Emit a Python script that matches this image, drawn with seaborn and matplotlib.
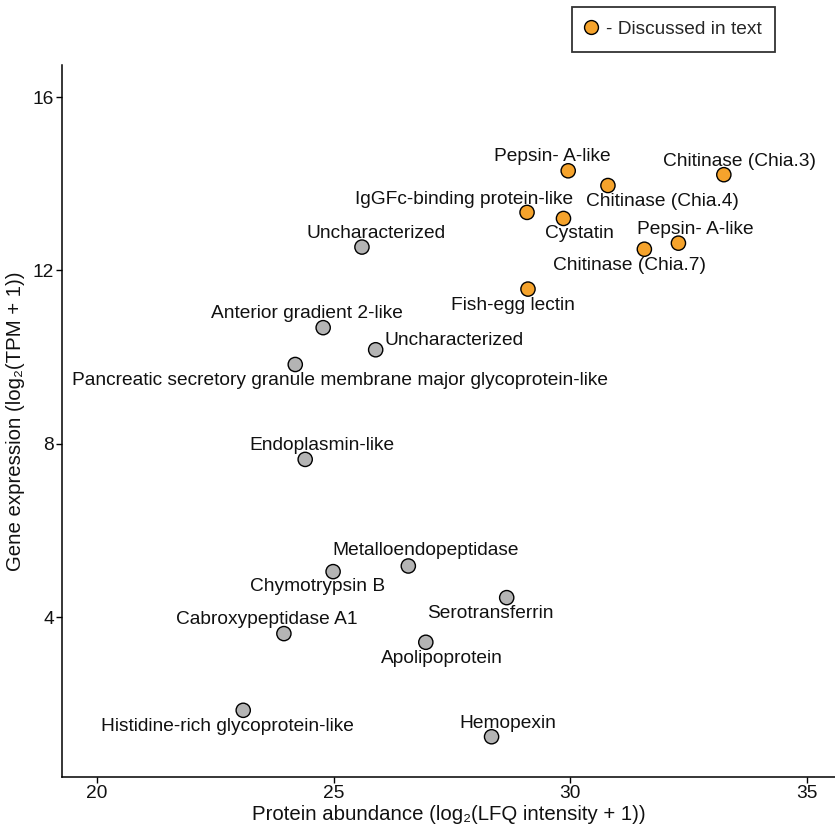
import numpy as np
import pandas as pd
import matplotlib
matplotlib.use("Agg")
import matplotlib.pyplot as plt
from matplotlib.lines import Line2D
import seaborn as sns

# protein names, abundance (x), expression (y), discussed flag
proteins = ["Pepsin- A-like", "Chitinase (Chia.3)", "Chitinase (Chia.4)",
            "IgGFc-binding protein-like", "Cystatin", "Pepsin- A-like",
            "Chitinase (Chia.7)", "Fish-egg lectin",
            "Uncharacterized", "Anterior gradient 2-like", "Uncharacterized",
            "Pancreatic secretory granule membrane major glycoprotein-like",
            "Endoplasmin-like", "Metalloendopeptidase", "Chymotrypsin B",
            "Serotransferrin", "Cabroxypeptidase A1", "Apolipoprotein",
            "Histidine-rich glycoprotein-like", "Hemopexin"]
abundance = [29.96, 33.25, 30.80, 29.09, 29.86, 32.29, 31.57, 29.11,
             25.60, 24.78, 25.89, 24.19, 24.40, 26.58, 24.99, 28.66,
             23.95, 26.95, 23.09, 28.34]
expression = [14.30, 14.21, 13.96, 13.34, 13.20, 12.63, 12.49, 11.57,
              12.54, 10.68, 10.17, 9.83, 7.64, 5.18, 5.05, 4.45,
              3.62, 3.42, 1.85, 1.24]
discussed = [True] * 8 + [False] * 12

# label offsets (pixels from point, to label centre)
label_offsets = [(-16, 14), (16, 13), (55, -16), (-63, 13), (16, -15),
                 (17, 14), (-15, -16), (-15, -16), (14, 14), (-16, 14),
                 (78, 9), (45, -16), (17, 14), (17, 15), (-16, -15),
                 (-16, -16), (-17, 14), (16, -16), (-16, -16), (16, 13)]

df = pd.DataFrame({"protein": proteins, "x": abundance, "y": expression,
                   "discussed": discussed})

sns.set_theme(style="ticks")
plt.rcParams['font.family'] = ['Liberation Sans', 'DejaVu Sans']

orange = "#F5A32C"
grey = "#B4B4B4"

fig = plt.figure(figsize=(8.35, 8.34), dpi=100)
ax = fig.add_axes([0.0743, 0.0683, 0.9257, 0.8537])
sns.scatterplot(data=df, x="x", y="y", hue="discussed",
                palette={True: orange, False: grey}, s=105,
                edgecolor="black", linewidth=1.0, legend=False, ax=ax, zorder=3)

for name, xv, yv, off in zip(proteins, abundance, expression, label_offsets):
    ax.annotate(name, (xv, yv), xytext=off, textcoords="offset pixels",
                ha="center", va="center", fontsize=13.8, color="#111111")

ax.set_xlim(19.26, 35.6)
ax.set_ylim(0.31, 16.74)
ax.set_xticks([20, 25, 30, 35])
ax.set_yticks([4, 8, 12, 16])
ax.tick_params(labelsize=13.8, length=4, width=1.0, color="black",
               labelcolor="#111111", pad=2)
ax.set_xlabel("Protein abundance (log₂(LFQ intensity + 1))", fontsize=14.7,
              color="#111111", labelpad=2)
ax.set_ylabel("Gene expression (log₂(TPM + 1))", fontsize=14.7,
              color="#111111", labelpad=5)
sns.despine(ax=ax)
for sp in ["left", "bottom"]:
    ax.spines[sp].set_linewidth(1.1)
    ax.spines[sp].set_color("black")

handle = Line2D([], [], marker="o", linestyle="none", markersize=10,
                markerfacecolor=orange, markeredgecolor="black",
                markeredgewidth=1.0)
leg = fig.legend(handles=[handle], labels=["- Discussed in text"],
                 loc="center", bbox_to_anchor=(0.8066, 0.965),
                 fontsize=13.8, frameon=True, fancybox=False,
                 handletextpad=0.45, handlelength=0.6, borderpad=0.72,
                 borderaxespad=0)
leg.get_frame().set_edgecolor("black")
leg.get_frame().set_linewidth(1.3)

fig.savefig("out.png", dpi=100)
